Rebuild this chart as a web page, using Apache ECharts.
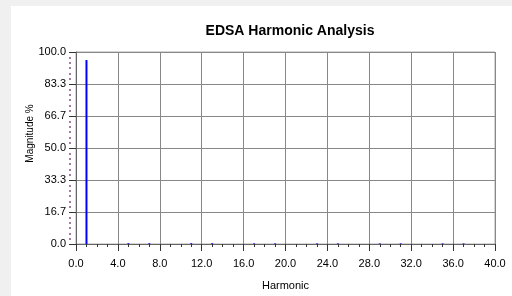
<!DOCTYPE html>
<html>
<head>
<meta charset="utf-8">
<script src="https://cdn.jsdelivr.net/npm/echarts@6/dist/echarts.min.js"></script>
<style>
  html, body { margin: 0; padding: 0; background: #f0f0f0; }
  #panel { position: absolute; left: 11px; top: 6px; width: 501px; height: 290px; background: #fff; }
  #chart { position: absolute; left: 0; top: 0; width: 512px; height: 296px; }
</style>
</head>
<body>
<div id="panel"></div>
<div id="chart"></div>
<script>
// harmonic order and magnitude (% of fundamental)
const harmonics = [1, 5, 7, 11, 13, 17, 19, 23, 25, 29, 31, 35, 37];
const magnitudes = [95.8, 0.4, 0.4, 0.4, 0.4, 0.3, 0.3, 0.3, 0.3, 0.3, 0.3, 0.3, 0.3];

const xMin = 0, xMax = 40, xStep = 4;
const yMin = 0, yMax = 100, yStep = 100 / 6;

const font = "Liberation Sans, Arial, sans-serif";
const chart = echarts.init(document.getElementById("chart"));

chart.setOption({
  animation: false,
  textStyle: { fontFamily: font },
  title: {
    text: "EDSA Harmonic Analysis",
    left: 285,
    textAlign: "center",
    top: 19,
    textStyle: { fontSize: 14, fontWeight: "bold", color: "#000", fontFamily: font },
  },
  grid: {
    left: 76,
    right: 17,
    top: 52,
    bottom: 52,
    show: true,
    borderColor: "#aaa",
    borderWidth: 1,
  },
  xAxis: [
    {
      type: "value",
      min: xMin,
      max: xMax,
      interval: xStep,
      name: "Harmonic",
      nameLocation: "middle",
      nameGap: 36,
      nameMoveOverlap: false,
      nameTextStyle: { fontSize: 11, color: "#000" },
      axisLine: { show: true, lineStyle: { color: "#666" } },
      axisTick: { show: false },
      axisLabel: {
        margin: 14,
        fontSize: 11,
        color: "#000",
        formatter: (v) => v.toFixed(1),
      },
      splitLine: { show: true, lineStyle: { color: "#888" } },
    },
    {
      type: "value",
      min: xMin,
      max: xMax,
      interval: xStep,
      position: "bottom",
      offset: 5,
      axisLine: { show: false },
      axisLabel: { show: false },
      axisTick: { show: true, length: 7, lineStyle: { color: "#333" } },
      minorTick: { show: true, splitNumber: 4, length: 3, lineStyle: { color: "#333" } },
      splitLine: { show: false },
    },
  ],
  yAxis: [
    {
      type: "value",
      min: yMin,
      max: yMax,
      interval: yStep,
      name: "Magnitude %",
      nameLocation: "middle",
      nameGap: 41,
      nameMoveOverlap: false,
      nameTextStyle: { fontSize: 10, color: "#000", padding: [0, 0, 0, 29] },
      axisLine: { show: true, lineStyle: { color: "#666" } },
      axisTick: { show: false },
      axisLabel: {
        margin: 10,
        fontSize: 11,
        color: "#000",
        formatter: (v) => v.toFixed(1),
      },
      splitLine: { show: true, lineStyle: { color: "#888" } },
    },
    {
      type: "value",
      min: yMin,
      max: yMax,
      interval: yStep,
      position: "left",
      offset: 2,
      axisLine: { show: false },
      axisLabel: { show: false },
      axisTick: { show: true, length: 7, lineStyle: { color: "#333" } },
      splitLine: { show: false },
    },
    {
      type: "value",
      min: yMin,
      max: yMax,
      interval: yStep,
      position: "left",
      offset: 5,
      axisLine: { show: false },
      axisLabel: { show: false },
      axisTick: { show: false },
      minorTick: { show: true, splitNumber: 6, length: 2, lineStyle: { color: "#86508a", width: 1.5 } },
      splitLine: { show: false },
    },
  ],
  series: [
    {
      type: "bar",
      xAxisIndex: 0,
      yAxisIndex: 0,
      barWidth: 2,
      itemStyle: { color: "#0000ff" },
      data: harmonics.map((h, i) => [h, magnitudes[i]]),
    },
  ],
});
</script>
</body>
</html>
